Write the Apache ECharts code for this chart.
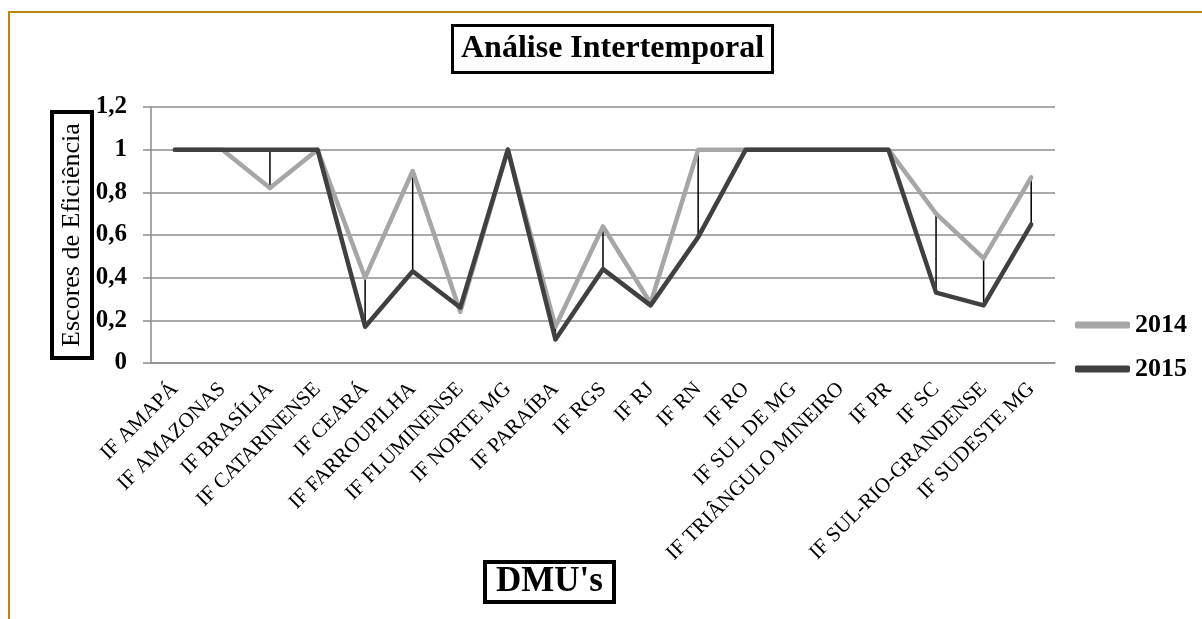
<!DOCTYPE html>
<html>
<head>
<meta charset="utf-8">
<script src="https://cdn.jsdelivr.net/npm/echarts@6/dist/echarts.min.js"></script>
<style>
  html, body { margin: 0; padding: 0; background: #fff; }
  #chart { width: 1202px; height: 619px; }
</style>
</head>
<body>
<div id="chart"></div>
<script>
// Instituições avaliadas (DMUs)
const categories = [
  'IF AMAPÁ', 'IF AMAZONAS', 'IF BRASÍLIA', 'IF CATARINENSE', 'IF CEARÁ',
  'IF FARROUPILHA', 'IF FLUMINENSE', 'IF NORTE MG', 'IF PARAÍBA', 'IF RGS',
  'IF RJ', 'IF RN', 'IF RO', 'IF SUL DE MG', 'IF TRIÂNGULO MINEIRO',
  'IF PR', 'IF SC', 'IF SUL-RIO-GRANDENSE', 'IF SUDESTE MG'
];

// Escores de eficiência por ano
const scores2014 = [1, 1, 0.82, 1, 0.40, 0.90, 0.24, 1, 0.17, 0.64, 0.28, 1, 1, 1, 1, 1, 0.70, 0.49, 0.87];
const scores2015 = [1, 1, 1, 1, 0.17, 0.43, 0.26, 1, 0.11, 0.44, 0.27, 0.59, 1, 1, 1, 1, 0.33, 0.27, 0.65];

// Eixo vertical
const yMin = 0, yMax = 1.2, yStep = 0.2;

const serif = 'Liberation Serif, Times New Roman, serif';
const gridColor = '#8c8c8c';

const chart = echarts.init(document.getElementById('chart'));

chart.setOption({
  animation: false,
  backgroundColor: '#fff',
  graphic: [{
    type: 'rect',
    shape: { x: 9, y: 12, width: 1220, height: 640 },
    style: { fill: 'none', stroke: '#B8860B', lineWidth: 2 },
    silent: true
  }],
  title: [{
    text: 'Análise Intertemporal',
    left: 452, top: 25,
    padding: [8, 9],
    borderColor: '#000', borderWidth: 3,
    textStyle: { fontFamily: serif, fontSize: 32, fontWeight: 'bold', color: '#000' }
  }, {
    text: "DMU's",
    left: 485, top: 563,
    padding: [3, 11],
    borderColor: '#000', borderWidth: 4,
    textStyle: { fontFamily: serif, fontSize: 35, lineHeight: 32, fontWeight: 'bold', color: '#000' }
  }],
  legend: {
    data: ['2014', '2015'],
    orient: 'vertical',
    left: 1075, top: 312,
    padding: 0,
    itemWidth: 55, itemHeight: 7, itemGap: 18,
    icon: 'roundRect',
    textStyle: { fontFamily: serif, fontSize: 26, fontWeight: 'bold', color: '#000' }
  },
  grid: { left: 151, right: 147, top: 107, bottom: 256 },
  xAxis: {
    type: 'category',
    data: categories,
    boundaryGap: true,
    axisLine: { show: true, lineStyle: { color: gridColor, width: 1.5 } },
    axisTick: { show: false },
    axisLabel: {
      interval: 0, rotate: 45, margin: 23,
      fontFamily: serif, fontSize: 21, color: '#000'
    }
  },
  yAxis: {
    type: 'value',
    min: yMin, max: yMax, interval: yStep,
    name: 'Escores de Eficiência',
    nameLocation: 'middle', nameRotate: 90, nameGap: 59,
    nameMoveOverlap: false,
    nameTextStyle: {
      fontFamily: serif, fontSize: 26, color: '#000',
      borderColor: '#000', borderWidth: 4, padding: [7, 11]
    },
    axisLine: { show: true, lineStyle: { color: gridColor, width: 1.5 } },
    axisTick: { show: true, length: 8, lineStyle: { color: gridColor, width: 1.5 } },
    splitLine: { lineStyle: { color: gridColor, width: 1.5 } },
    axisLabel: {
      margin: 24,
      fontFamily: serif, fontSize: 25, fontWeight: 'bold', color: '#000',
      formatter: v => String(+v.toFixed(1)).replace('.', ',')
    }
  },
  series: [{
    name: '2014',
    type: 'line',
    data: scores2014,
    symbol: 'none',
    color: '#a6a6a6',
    lineStyle: { color: '#a6a6a6', width: 4.5, cap: 'round', join: 'round' }
  }, {
    // linhas de máximo e mínimo entre os dois anos
    name: 'hilo',
    type: 'custom',
    data: categories.map((c, i) => [i, scores2014[i], scores2015[i]]),
    encode: { x: 0, y: [1, 2] },
    renderItem: (params, api) => {
      const x = api.value(0);
      const a = api.coord([x, api.value(1)]);
      const b = api.coord([x, api.value(2)]);
      return {
        type: 'line',
        shape: { x1: a[0], y1: a[1], x2: b[0], y2: b[1] },
        style: { stroke: '#000', lineWidth: 1.5 }
      };
    },
    silent: true
  }, {
    name: '2015',
    type: 'line',
    data: scores2015,
    symbol: 'none',
    color: '#404040',
    lineStyle: { color: '#404040', width: 4.5, cap: 'round', join: 'round' }
  }]
});
</script>
</body>
</html>
